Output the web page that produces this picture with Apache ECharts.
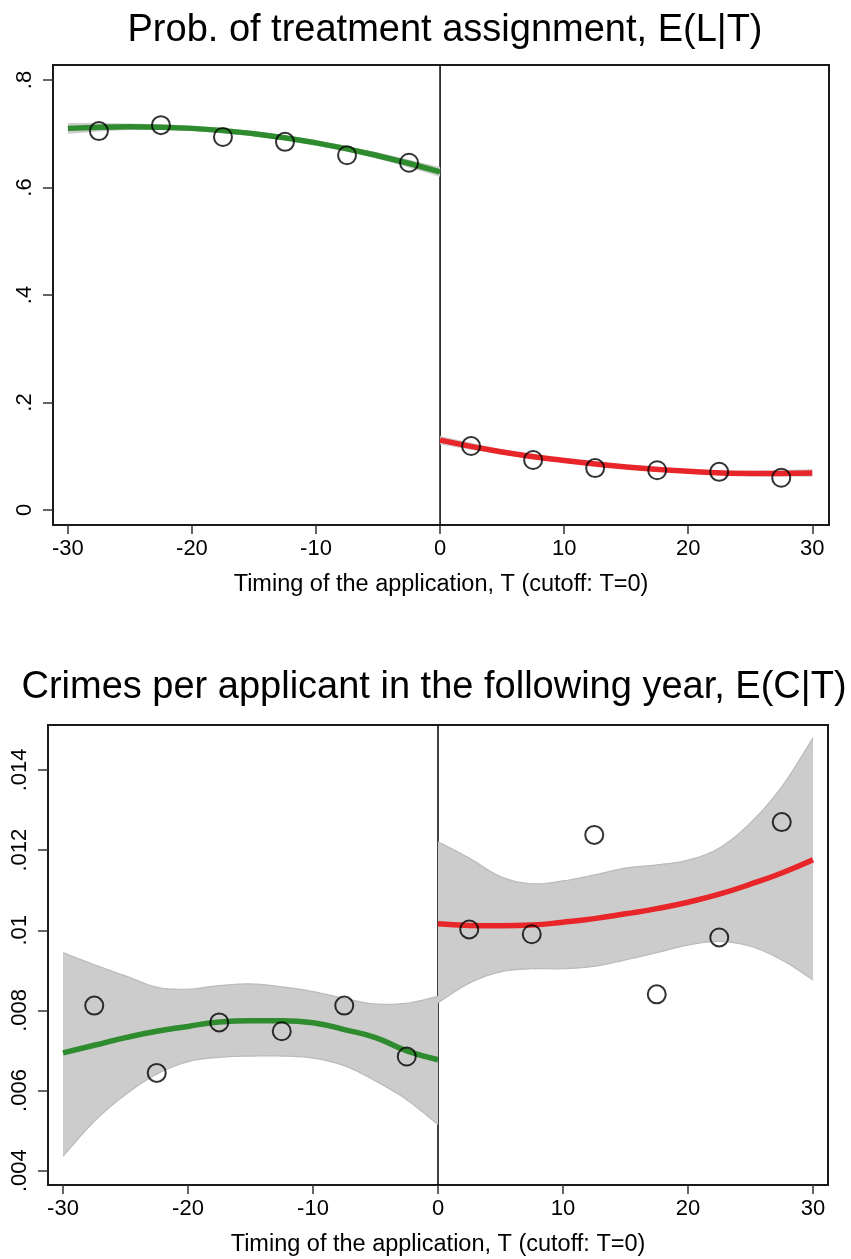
<!DOCTYPE html>
<html>
<head>
<meta charset="utf-8">
<script src="https://cdn.jsdelivr.net/npm/echarts@6/dist/echarts.min.js"></script>
<style>
html,body{margin:0;padding:0;background:#fff;}
#chart{width:851px;height:1259px;}
</style>
</head>
<body>
<div id="chart"></div>
<script>
// ---- data ----
const binX = [-27.5,-22.5,-17.5,-12.5,-7.5,-2.5,2.5,7.5,12.5,17.5,22.5,27.5];
const probBins = [0.705,0.716,0.694,0.685,0.660,0.646,0.119,0.093,0.078,0.074,0.071,0.060];
const crimeBins = [0.00812,0.00644,0.00770,0.00748,0.00812,0.00685,0.01002,0.00990,0.01238,0.00840,0.00982,0.01270];

// top panel fit (read every 5 units)
const probXLeft = [-30,-25,-20,-15,-10,-5,0];
const probXRight = [0,5,10,15,20,25,30];
const probFitLeft = [0.710,0.713,0.710,0.700,0.683,0.659,0.629];
const probLoLeft  = [0.700,0.707,0.705,0.695,0.678,0.653,0.620];
const probHiLeft  = [0.720,0.719,0.715,0.705,0.688,0.665,0.638];
const probFitRight = [0.130,0.108,0.092,0.080,0.072,0.068,0.069];
const probLoRight  = [0.122,0.103,0.088,0.076,0.068,0.063,0.062];
const probHiRight  = [0.138,0.113,0.096,0.084,0.076,0.073,0.076];

// bottom panel fit (read every 2.5 units)
const crimeXLeft = [-30,-27.5,-25,-22.5,-20,-17.5,-15,-12.5,-10,-7.5,-5,-2.5,0];
const crimeXRight = [0,2.5,5,7.5,10,12.5,15,17.5,20,22.5,25,27.5,30];
const crimeFitLeft = [0.00694,0.00713,0.00732,0.00748,0.00760,0.00771,0.00774,0.00774,0.00769,0.00752,0.00732,0.00699,0.00677];
const crimeLoLeft  = [0.00436,0.00523,0.00590,0.00641,0.00672,0.00683,0.00686,0.00686,0.00681,0.00662,0.00624,0.00577,0.00515];
const crimeHiLeft  = [0.00944,0.00914,0.00886,0.00858,0.00853,0.00862,0.00866,0.00859,0.00847,0.00830,0.00816,0.00818,0.00835];
const crimeFitRight = [0.01016,0.01012,0.01011,0.01013,0.01020,0.01029,0.01041,0.01054,0.01070,0.01090,0.01115,0.01143,0.01176];
const crimeLoRight  = [0.00819,0.00868,0.00896,0.00904,0.00904,0.00910,0.00926,0.00944,0.00963,0.00972,0.00960,0.00926,0.00876];
const crimeHiRight  = [0.01221,0.01180,0.01134,0.01116,0.01123,0.01138,0.01155,0.01163,0.01175,0.01205,0.01268,0.01358,0.01480];

const xTicks = [-30,-20,-10,0,10,20,30];
const probTicks = [0,0.2,0.4,0.6,0.8];
const crimeTicks = [0.004,0.006,0.008,0.01,0.012,0.014];

const titles = ['Prob. of treatment assignment, E(L|T)','Crimes per applicant in the following year, E(C|T)'];
const xName = 'Timing of the application, T (cutoff: T=0)';

// ---- helpers ----
const zip = (xs, ys) => xs.map((x, i) => [x, ys[i]]);
const FONT = 'Liberation Sans, Arial, Helvetica, sans-serif';
const GREEN = '#2e8b2e';
const RED = '#e8262a';
const BAND = '#cccccc';
const BANDLINE = '#bababa';

// Catmull-Rom smoothing of pixel points (rendering only)
function spline(p) {
  const out = [];
  for (let i = 0; i < p.length - 1; i++) {
    const p0 = p[Math.max(i - 1, 0)], p1 = p[i], p2 = p[i + 1], p3 = p[Math.min(i + 2, p.length - 1)];
    const N = 10;
    for (let k = 0; k < N; k++) {
      const t = k / N, t2 = t * t, t3 = t2 * t;
      const f = (a, b, c, d) => 0.5 * ((2 * b) + (-a + c) * t + (2 * a - 5 * b + 4 * c - d) * t2 + (-a + 3 * b - 3 * c + d) * t3);
      out.push([f(p0[0], p1[0], p2[0], p3[0]), f(p0[1], p1[1], p2[1], p3[1])]);
    }
  }
  out.push(p[p.length - 1]);
  return out;
}

function band(idx, xs, lo, hi, showLines) {
  return {
    type:'custom', xAxisIndex:idx, yAxisIndex:idx, silent:true, z:3,
    data:[[xs[0], lo[0]]],
    renderItem:(params, api) => {
      const up = spline(xs.map((x, i) => api.coord([x, hi[i]])));
      const dn = spline(xs.map((x, i) => api.coord([x, lo[i]])));
      const poly = up.concat(dn.slice().reverse());
      const children = [{ type:'polygon', shape:{ points:poly }, style:{ fill:BAND, stroke:null } }];
      if (showLines) {
        children.push({ type:'polyline', shape:{ points:up }, style:{ stroke:BANDLINE, lineWidth:1.2, fill:null } });
        children.push({ type:'polyline', shape:{ points:dn }, style:{ stroke:BANDLINE, lineWidth:1.2, fill:null } });
      }
      return { type:'group', children };
    }
  };
}
function fit(idx, xs, ys, color) {
  return { type:'line', xAxisIndex:idx, yAxisIndex:idx, data: zip(xs, ys), smooth:true, showSymbol:false,
    lineStyle:{ color, width:5.5 }, silent:true, z:4 };
}
function pts(idx, ys) {
  return { type:'scatter', xAxisIndex:idx, yAxisIndex:idx, data: zip(binX, ys), symbol:'circle', symbolSize:18,
    itemStyle:{ color:'rgba(0,0,0,0)', borderColor:'#000', borderWidth:2 }, silent:true, z:5 };
}
function vline(idx, lo, hi) {
  return { type:'line', xAxisIndex:idx, yAxisIndex:idx, data:[[0,lo],[0,hi]], showSymbol:false,
    lineStyle:{ color:'#000', width:1.5 }, silent:true, z:2 };
}
const fmtY = v => v === 0 ? '0' : String(v).replace(/^0\./, '.');

function xAxis(idx, min, max) {
  return { type:'value', gridIndex:idx, min, max, name:xName, nameLocation:'middle', nameGap:48,
    nameTextStyle:{ fontFamily:FONT, fontSize:23.5, color:'#000' },
    axisLine:{ show:false, onZero:false }, splitLine:{ show:false },
    axisTick:{ show:true, customValues:xTicks, length:9, lineStyle:{ color:'#333', width:1.5 } },
    axisLabel:{ customValues:xTicks, fontFamily:FONT, fontSize:22, color:'#000', margin:13 } };
}
function yAxis(idx, min, max, ticks) {
  return { type:'value', gridIndex:idx, min, max,
    axisLine:{ show:false, onZero:false }, splitLine:{ show:false },
    axisTick:{ show:true, customValues:ticks, length:10, lineStyle:{ color:'#333', width:1.5 } },
    axisLabel:{ customValues:ticks, rotate:90, formatter:fmtY, fontFamily:FONT, fontSize:22, color:'#000', margin:17 } };
}

const pMin = -0.0279, pMax = 0.8279;
const cMin = 0.003643, cMax = 0.015122;

const option = {
  animation:false,
  backgroundColor:'#fff',
  title:[
    { text:titles[0], left:440, top:7, textAlign:'center', textStyle:{ fontFamily:FONT, fontSize:38, fontWeight:'normal', color:'#000' } },
    { text:titles[1], left:429, top:664, textAlign:'center', textStyle:{ fontFamily:FONT, fontSize:38, fontWeight:'normal', color:'#000' } }
  ],
  grid:[
    { left:53, top:65, width:776, height:460, show:true, borderColor:'#1a1a1a', borderWidth:2, backgroundColor:'#fff' },
    { left:48, top:725, width:780, height:460, show:true, borderColor:'#1a1a1a', borderWidth:2, backgroundColor:'#fff' }
  ],
  xAxis:[ xAxis(0, -31.2, 31.35), xAxis(1, -31.2, 31.2) ],
  yAxis:[ yAxis(0, pMin, pMax, probTicks), yAxis(1, cMin, cMax, crimeTicks) ],
  series:[
    vline(0, pMin, pMax),
    band(0, probXLeft, probLoLeft, probHiLeft, false),
    band(0, probXRight, probLoRight, probHiRight, false),
    fit(0, probXLeft, probFitLeft, GREEN),
    fit(0, probXRight, probFitRight, RED),
    pts(0, probBins),
    vline(1, cMin, cMax),
    band(1, crimeXLeft, crimeLoLeft, crimeHiLeft, true),
    band(1, crimeXRight, crimeLoRight, crimeHiRight, true),
    fit(1, crimeXLeft, crimeFitLeft, GREEN),
    fit(1, crimeXRight, crimeFitRight, RED),
    pts(1, crimeBins)
  ]
};
const chart = echarts.init(document.getElementById('chart'), null, { renderer:'canvas' });
chart.setOption(option);
</script>
</body>
</html>
